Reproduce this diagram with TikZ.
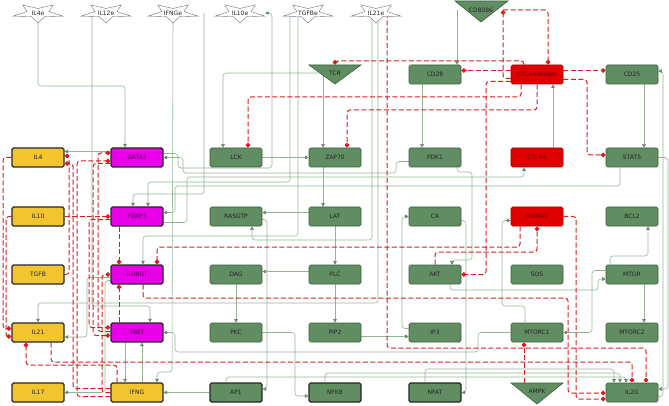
\documentclass[tikz,border=0pt]{standalone}
\usepackage{fontspec}
\setmainfont{DejaVu Sans}
\usetikzlibrary{arrows.meta,positioning}
\definecolor{gfill}{RGB}{96,141,98}
\definecolor{gdraw}{RGB}{58,96,60}
\definecolor{gline}{RGB}{146,180,146}
\definecolor{yfill}{RGB}{242,196,48}
\definecolor{mfill}{RGB}{232,0,232}
\definecolor{rfill}{RGB}{224,0,0}
\definecolor{rline}{RGB}{214,30,30}
\pgfdeclarelayer{bg}
\pgfsetlayers{bg,main}
\newcommand\extstar[3]{%
  \draw[draw=black!55,fill=white,line width=.4pt,shift={(#2)}] (0,10)--(6.9,3.6)--(24.7,3.1)--(11.1,-1.4)--(15.3,-8.1)--(0,-4.5)--(-15.3,-8.1)--(-11.1,-1.4)--(-24.7,3.1)--(-6.9,3.6)--cycle;
  \node[txt,minimum width=50pt,minimum height=18pt] (#1) at (#2) {#3};}

\begin{document}
\begin{tikzpicture}[x=1pt,y=-1pt,
  txt/.style={font=\fontsize{6}{7}\selectfont,inner sep=0pt,text=black!85},
  gbox/.style={txt,draw=gdraw,fill=gfill,rounded corners=1.5pt,line width=.6pt,minimum width=52pt,minimum height=19pt},
  kbox/.style={gbox,draw=black!85,line width=1.1pt},
  ybox/.style={kbox,fill=yfill},
  mbox/.style={kbox,fill=mfill,text=black!70!mfill},
  rbox/.style={gbox,draw=rfill!70!black,fill=rfill,text=rfill!45!black},
  tri/.style={draw=gdraw,fill=gfill,line width=.6pt},
  act/.style={draw=gline,line width=.55pt,rounded corners=3pt,-{Triangle[length=3.5pt,width=3.5pt,color=gdraw!75]}},
  inh/.style={draw=rline,line width=1pt,dash pattern=on 5pt off 2.5pt,rounded corners=3pt,-{Diamond[length=5pt,width=5pt,fill=rline]}}]
\useasboundingbox (0,0) rectangle (669,406);

\extstar{il4e}{38,13}{IL4e}
\extstar{il12e}{106,13}{IL12e}
\extstar{ifnge}{173,13}{IFNGe}
\extstar{il10e}{240,13}{IL10e}
\extstar{tgfbe}{308,13}{TGFBe}
\extstar{il21e}{376,13}{IL21e}

\draw[tri] (309,65)--(361,65)--(335,84)--cycle;
\node[txt,minimum width=40pt,minimum height=16pt] (tcr) at (335,73) {TCR};
\draw[tri] (455,1)--(508,1)--(481,22)--cycle;
\node[txt,minimum width=44pt,minimum height=16pt] (cd8086) at (481,10) {CD8086};
\draw[tri] (511,383)--(563,383)--(537,404)--cycle;
\node[txt,minimum width=40pt,minimum height=16pt] (ampk) at (537,391) {AMPK};

\node[gbox] (cd28) at (435,74.5) {CD28};
\node[rbox] (ctla4d) at (537,74.5) {CTLA4dimers};
\node[gbox] (cd25) at (632,74.5) {CD25};

\node[ybox] (il4) at (38,157.5) {IL4};
\node[mbox] (gata3) at (137,157.5) {GATA3};
\node[gbox] (lck) at (236,157.5) {LCK};
\node[gbox] (zap70) at (335,157.5) {ZAP70};
\node[gbox] (pdk1) at (435,157.5) {PDK1};
\node[rbox] (ctla4) at (537,157.5) {CTLA4};
\node[gbox] (stat5) at (632,157.5) {STAT5};

\node[ybox] (il10) at (38,216.5) {IL10};
\node[mbox] (foxp3) at (137,216.5) {FOXP3};
\node[gbox] (rasgtp) at (236,216.5) {RASGTP};
\node[gbox] (lat) at (335,216.5) {LAT};
\node[gbox] (ca) at (435,216.5) {CA};
\node[rbox] (ndrg1) at (537,216.5) {NDRG1};
\node[gbox] (bcl2) at (632,216.5) {BCL2};

\node[ybox] (tgfb) at (38,274.5) {TGFB};
\node[mbox] (rorgt) at (137,274.5) {RORGT};
\node[gbox] (dag) at (236,274.5) {DAG};
\node[gbox] (plc) at (335,274.5) {PLC};
\node[gbox] (akt) at (435,274.5) {AKT};
\node[gbox] (sos) at (537,274.5) {SOS};
\node[gbox] (mtor) at (632,274.5) {MTOR};

\node[ybox] (il21) at (38,332.5) {IL21};
\node[mbox] (tbet) at (137,332.5) {TBET};
\node[gbox] (pkc) at (236,332.5) {PKC};
\node[gbox] (pip2) at (335,332.5) {PIP2};
\node[gbox] (ip3) at (435,332.5) {IP3};
\node[gbox] (mtorc1) at (537,332.5) {MTORC1};
\node[gbox] (mtorc2) at (632,332.5) {MTORC2};

\node[ybox] (il17) at (38,392.5) {IL17};
\node[ybox] (ifng) at (137,392.5) {IFNG};
\node[kbox] (ap1) at (236,392.5) {AP1};
\node[kbox] (nfkb) at (335,392.5) {NFKB};
\node[kbox] (nfat) at (435,392.5) {NFAT};
\node[gbox] (il2g) at (632,392.5) {IL2G};

\begin{pgfonlayer}{bg}
\draw[act] (il4e.south)--(38,86)--(125,86)--([xshift=-12pt]gata3.north);
\draw[act] ([xshift=-14pt]il12e.center)--(92,306)--(150,306)--([xshift=13pt]tbet.north);
\draw[act] (ifnge.south)--(172,372)--(157,372)--([xshift=20pt]ifng.north);
\draw[act] ([xshift=-36pt]il10e.center)--(204,194)--(133,194)--([xshift=-4pt]foxp3.north);
\draw[act] ([yshift=4pt]gata3.east)--(178,153.5)--(178,168)--(272,168)--(272,13)--(il10e.east);
\draw[act] ([xshift=-18pt]tgfbe.center)--(290,182)--(148,182)--([xshift=11pt]foxp3.north);
\draw[act] ([xshift=-10pt]tgfbe.center)--(298,236)--(143,236)--([xshift=6pt]rorgt.north);
\draw[act] ([xshift=-4pt]il21e.center)--(372,240)--(252,240)--([xshift=16pt]rasgtp.south);
\draw[act] ([xshift=2pt]il21e.center)--(378,303)--(38,303)--(il21.north);
\draw[act] ([xshift=-12pt]tcr.center)-|([xshift=-13pt]lck.north);
\draw[act] ([xshift=-12pt]tcr.center)--([xshift=-12pt]zap70.north);
\draw[act] (lck)--(zap70);
\draw[act] ([xshift=-12pt]zap70.south)--([xshift=-12pt]lat.north);
\draw[act] ([yshift=4pt]lat.west)--([yshift=4pt]rasgtp.east);
\draw[act] (lat)--(plc);
\draw[act] ([yshift=3pt]plc.west)--([yshift=3pt]dag.east);
\draw[act] (plc)--(pip2);
\draw[act] (dag)--(pkc);
\draw[act] ([yshift=-4pt]pip2.east)--([yshift=-4pt]ip3.west);
\draw[act] (pkc.east)--(295,332.5)--(295,396)--([yshift=-3.5pt]nfkb.west);
\draw[act] ([yshift=-3pt]rasgtp.east)--(267,219.5)--(267,389)--([yshift=3.5pt]ap1.east);
\draw[act] ([xshift=-24pt]cd8086.center)--([xshift=22pt]cd28.north);
\draw[act] ([xshift=-13pt]cd28.south)--([xshift=-13pt]pdk1.north);
\draw[act] ([yshift=-4pt]pdk1.west)--(396,161.5)--(396,173)--(183,173)--(183,157.5)--(gata3.east);
\draw[act] ([xshift=12pt]cd25.south)--([xshift=12pt]stat5.north);
\draw[act] (stat5.east)--(668,157.5)--(668,389)--([yshift=3.5pt]il2g.east);
\draw[act] ([yshift=-4pt]il2g.east)--(663,396.5)--(663,71)--([yshift=3.5pt]cd25.east);
\draw[act] ([xshift=12pt]mtor.south)--([xshift=12pt]mtorc2.north);
\draw[act] ([yshift=-6pt]foxp3.east)--(187,222.5)--(187,177)--(524,177)--([xshift=-13pt]ctla4.south);
\draw[act] ([xshift=16pt]ctla4.north)--([xshift=16pt]ctla4d.south);
\draw[act] ([xshift=22pt]pdk1.south)--(457,172)--(472,172)--(472,260)--(452,260)--([xshift=17pt]akt.north);
\draw[act] ([yshift=4pt]ip3.west)--(402,328.5)--(402,216.5)--(ca.west);
\draw[act] ([yshift=-4pt]ca.east)--(466,220.5)--(466,392.5)--(nfat.east);
\draw[act] ([xshift=15pt]akt.south)--(450,290)--(598,290)--(598,279)--([yshift=-4.5pt]mtor.west);
\draw[act] ([yshift=4pt]mtor.west)--(592,270.5)--(592,332.5)--(mtorc1.east);
\draw[act] ([xshift=-12pt]mtorc1.north)--(525,306)--(502,306)--(502,220.5)--([yshift=-4pt]ndrg1.west);
\draw[act] ([xshift=-22pt]mtor.north)--(610,256)--(648,256)--([xshift=16pt]bcl2.south);
\draw[act] (mtorc1.west)--(478,332.5)--(478,352)--(175,352)--(175,332.5)--(tbet.east);
\draw[act] ([xshift=-12pt]stat5.south)--(620,186)--(175,186)--(175,212.5)--([yshift=4pt]foxp3.east);
\draw[act] (ap1)--(ifng);
\draw[act] ([yshift=-6pt]rorgt.west)--(105,280.5)--(105,392.5)--(il17.east);
\draw[act] ([yshift=-3pt]rorgt.west)--(87,277.5)--(87,337)--([yshift=-4.5pt]il21.east);
\draw[act] ([xshift=-12pt]tbet.south)--([xshift=-12pt]ifng.north);
\draw[act] ([xshift=5pt]ifng.north)--([xshift=5pt]tbet.south);
\draw[act] ([yshift=6pt]gata3.west)--([yshift=6pt]il4.east);
\draw[act] ([xshift=-10pt]nfat.north)--(425,369)--(614,369)--([xshift=-18pt]il2g.north);
\draw[act] ([xshift=-10pt]nfkb.north)--(325,373)--(620,373)--([xshift=-12pt]il2g.north);
\draw[act] ([xshift=-10pt]ap1.north)--(226,377)--(626,377)--([xshift=-6pt]il2g.north);

\draw[inh] ([xshift=-13pt]ctla4d.north)--(524,61)-|(tcr.north);
\draw[inh] ([yshift=-4pt]ctla4d.west)--(503,78.5)--(cd8086.east);
\draw[inh] (cd8086.east)-|([xshift=11pt]ctla4d.north);
\draw[inh] ([yshift=4pt]ctla4d.west)--([yshift=4pt]cd28.east);
\draw[inh] ([yshift=4pt]ctla4d.east)--([yshift=4pt]cd25.west);
\draw[inh] ([yshift=-5pt]ctla4d.east)--(587,79.5)--(587,155)--([yshift=2.5pt]stat5.west);
\draw[inh] ([xshift=-16pt]ctla4d.south)--(521,97)--(248,97)--([xshift=12pt]lck.north);
\draw[inh] (ctla4d.south)--(537,110)--(347,110)--([xshift=12pt]zap70.north);
\draw[inh] ([yshift=-7pt]ctla4d.west)--(486,81.5)--(486,274.5)--(akt.east);
\draw[inh] ([xshift=11pt]il21e.center)--(387,348)--(646,348)--([xshift=14pt]il2g.north);
\draw[inh] ([xshift=6pt]rorgt.south)--(143,298)--(568,298)--(568,393)--([yshift=-.5pt]il2g.west);
\draw[inh] (ndrg1.east)--(576,216.5)--(576,399)--([yshift=-6.5pt]il2g.west);
\draw[inh] ([xshift=-17pt]ndrg1.south)--(520,247)--(157,247)--([xshift=20pt]rorgt.north);
\draw[inh] (akt.north)--(435,252)--(537,252)--(ndrg1.south);
\draw[inh] ([xshift=-13pt]ampk.north)--([xshift=-13pt]mtorc1.south);
\draw[inh] ([xshift=13pt]il21.south)--(51,362)--(632,362)--(il2g.north);
\draw[inh] ([xshift=-20pt]ifng.north)--(117,365)--(26,365)--([xshift=-12pt]il21.south);
\draw[inh] (il4.west)--(3,157.5)--(3,328.5)--([yshift=4pt]il21.west);
\draw[inh] (il10.west)--(6,216.5)--(6,336.5)--([yshift=-4pt]il21.west);
\draw[inh] ([xshift=-18pt]foxp3.south)--([xshift=-18pt]rorgt.north);
\draw[inh] ([xshift=-18pt]tbet.north)--([xshift=-18pt]rorgt.south);
\draw[inh] (il10.east)--(foxp3.west);
\draw[inh] (tgfb.east)--(69,274.5)--(69,156)--([yshift=1.5pt]il4.east);
\draw[inh] ([yshift=1pt]tbet.west)--(98,331.5)--(98,153)--([yshift=4.5pt]gata3.west);
\draw[inh] ([yshift=-4pt]ifng.west)--(77,396.5)--(77,161)--([yshift=-3.5pt]gata3.west);
\draw[inh] ([yshift=-6pt]gata3.west)--(93,163.5)--(93,335.5)--([yshift=-3pt]tbet.west);
\draw[inh] ([yshift=-3pt]foxp3.west)--(89,219.5)--(89,327.5)--([yshift=5pt]tbet.west);
\draw[inh] ([yshift=4pt]ifng.west)--(73,388.5)--(73,163.5)--([yshift=-6pt]il4.east);
\draw[inh] (ifng.west)--(102,392.5)--(102,274.5)--(rorgt.west);
\end{pgfonlayer}
\end{tikzpicture}
\end{document}
